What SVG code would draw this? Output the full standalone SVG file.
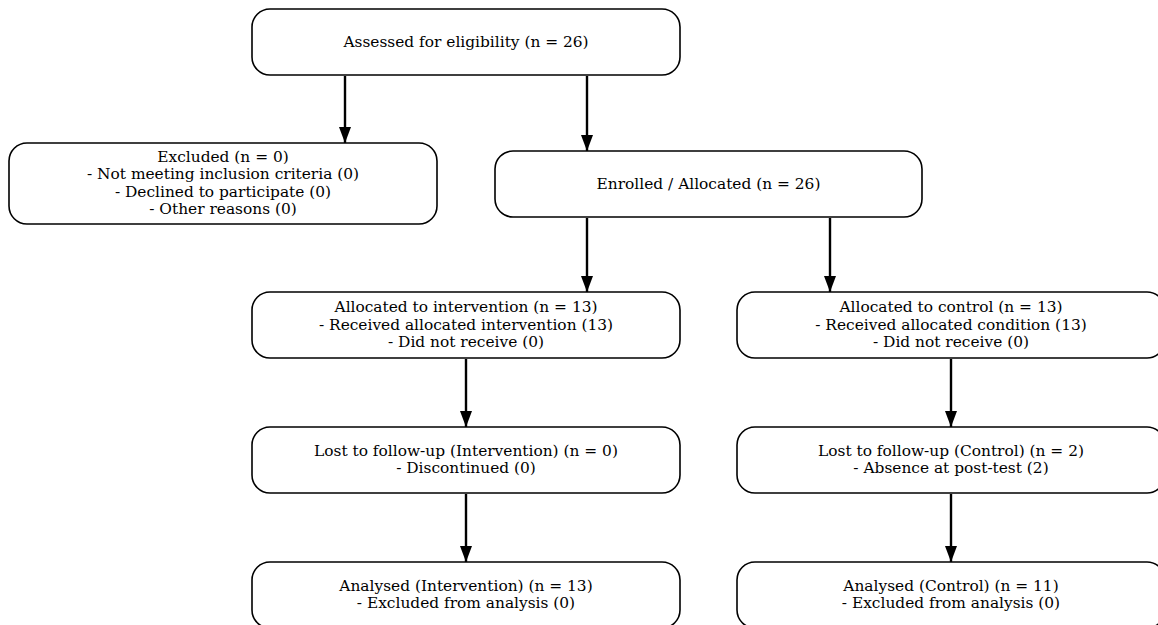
<svg xmlns="http://www.w3.org/2000/svg" width="1158" height="625" viewBox="0 0 1158 625">
<defs>
<marker id="ah" viewBox="0 0 16 12" refX="16" refY="6" markerWidth="16" markerHeight="12" markerUnits="userSpaceOnUse" orient="auto">
<path d="M0,0 L16,6 L0,12 z" fill="#000"/>
</marker>
<style>
.box{fill:#fff;stroke:#000;stroke-width:1.6}
.t{font-family:"DejaVu Serif",serif;font-size:15.4px;fill:#000;text-anchor:middle}
.c{stroke:#000;stroke-width:2.4;fill:none;marker-end:url(#ah)}
</style>
</defs>
<rect width="1158" height="625" fill="#fff"/>
<g id="connectors">
<line class="c" x1="345" y1="76" x2="345" y2="143"/>
<line class="c" x1="587" y1="76" x2="587" y2="151"/>
<line class="c" x1="587" y1="218" x2="587" y2="292"/>
<line class="c" x1="830" y1="218" x2="830" y2="292"/>
<line class="c" x1="466" y1="359" x2="466" y2="427"/>
<line class="c" x1="951" y1="359" x2="951" y2="427"/>
<line class="c" x1="466" y1="494" x2="466" y2="562"/>
<line class="c" x1="951" y1="494" x2="951" y2="562"/>
</g>
<g id="assessed">
<rect class="box" x="252" y="9" width="428" height="66" rx="18"/>
<text class="t" x="466" y="47">Assessed for eligibility (n = 26)</text>
</g>
<g id="excluded">
<rect class="box" x="9" y="143" width="428" height="81" rx="18"/>
<text class="t" x="223" y="161.5">Excluded (n = 0)</text>
<text class="t" x="223" y="179">- Not meeting inclusion criteria (0)</text>
<text class="t" x="223" y="196.5">- Declined to participate (0)</text>
<text class="t" x="223" y="214">- Other reasons (0)</text>
</g>
<g id="enrolled">
<rect class="box" x="495" y="151" width="427" height="66" rx="18"/>
<text class="t" x="708.5" y="188.5">Enrolled / Allocated (n = 26)</text>
</g>
<g id="alloc-intervention">
<rect class="box" x="252" y="292" width="428" height="66" rx="18"/>
<text class="t" x="466" y="312">Allocated to intervention (n = 13)</text>
<text class="t" x="466" y="329.5">- Received allocated intervention (13)</text>
<text class="t" x="466" y="347">- Did not receive (0)</text>
</g>
<g id="alloc-control">
<rect class="box" x="737" y="292" width="428" height="66" rx="18"/>
<text class="t" x="951" y="312">Allocated to control (n = 13)</text>
<text class="t" x="951" y="329.5">- Received allocated condition (13)</text>
<text class="t" x="951" y="347">- Did not receive (0)</text>
</g>
<g id="lost-intervention">
<rect class="box" x="252" y="427" width="428" height="66" rx="18"/>
<text class="t" x="466" y="455.5">Lost to follow-up (Intervention) (n = 0)</text>
<text class="t" x="466" y="473">- Discontinued (0)</text>
</g>
<g id="lost-control">
<rect class="box" x="737" y="427" width="428" height="66" rx="18"/>
<text class="t" x="951" y="455.5">Lost to follow-up (Control) (n = 2)</text>
<text class="t" x="951" y="473">- Absence at post-test (2)</text>
</g>
<g id="analysed-intervention">
<rect class="box" x="252" y="562" width="428" height="66" rx="18"/>
<text class="t" x="466" y="590.5">Analysed (Intervention) (n = 13)</text>
<text class="t" x="466" y="608">- Excluded from analysis (0)</text>
</g>
<g id="analysed-control">
<rect class="box" x="737" y="562" width="428" height="66" rx="18"/>
<text class="t" x="951" y="590.5">Analysed (Control) (n = 11)</text>
<text class="t" x="951" y="608">- Excluded from analysis (0)</text>
</g>
</svg>
